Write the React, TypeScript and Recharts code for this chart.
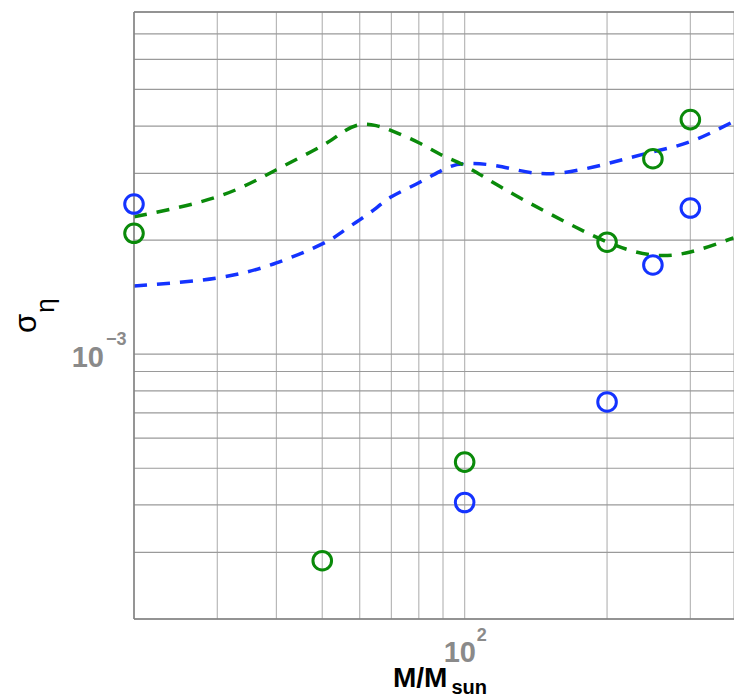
import { CartesianGrid, ComposedChart, Line, ReferenceLine, Scatter, XAxis, YAxis } from "recharts";

const BLUE = "#1433ff";
const GREEN = "#0a8a0a";
const BORDER = "#808080";
const TICK_GRAY = "#8a8a8a";
const FONT = "'Liberation Sans', Arial, Helvetica, sans-serif";

// M/Msun sample points of the two dashed curves
const curveMass = [20, 30, 40, 50, 55, 60, 65, 70, 80, 90, 100, 120, 150, 200, 250, 300, 370];
const greenCurveSigma = [
  2.304e-3, 2.602e-3, 3.067e-3, 3.551e-3, 3.843e-3, 4.035e-3, 4.011e-3, 3.89e-3, 3.615e-3, 3.341e-3, 3.144e-3,
  2.749e-3, 2.361e-3, 1.978e-3, 1.827e-3, 1.861e-3, 2.027e-3,
];
const blueCurveSigma = [
  1.513e-3, 1.589e-3, 1.741e-3, 1.954e-3, 2.1e-3, 2.262e-3, 2.43e-3, 2.602e-3, 2.835e-3, 3.067e-3, 3.182e-3,
  3.124e-3, 2.994e-3, 3.182e-3, 3.422e-3, 3.638e-3, 4.11e-3,
];

// circle markers
const blueMarkerMass = [20, 100, 200, 250, 300];
const blueMarkerSigma = [2.49e-3, 0.406e-3, 0.748e-3, 1.72e-3, 2.43e-3];
const greenMarkerMass = [20, 50, 100, 200, 250, 300];
const greenMarkerSigma = [2.085e-3, 0.285e-3, 0.519e-3, 1.975e-3, 3.28e-3, 4.16e-3];

const xTicks = [20, 30, 40, 50, 60, 70, 80, 90, 100, 200, 300];
const yTicks = [
  0.0002, 0.0003, 0.0004, 0.0005, 0.0006, 0.0007, 0.0008, 0.0009, 0.001, 0.002, 0.003, 0.004, 0.005, 0.006, 0.007,
  0.008,
];

const zip = (xs: number[], ys: number[]) => xs.map((x, i) => ({ x, y: ys[i] }));

const greenCurve = zip(curveMass, greenCurveSigma);
const blueCurve = zip(curveMass, blueCurveSigma);
const blueMarkers = zip(blueMarkerMass, blueMarkerSigma);
const greenMarkers = zip(greenMarkerMass, greenMarkerSigma);

const ring = (color: string) => (props: any) =>
  <circle cx={props.cx} cy={props.cy} r={9.3} fill="none" stroke={color} strokeWidth={3} />;

function XTick(props: any) {
  const { x, payload } = props;
  if (payload.value !== 100) return <g />;
  return (
    <g fontFamily={FONT} fontWeight="bold" fill={TICK_GRAY}>
      <text x={x - 21} y={662} fontSize={29}>10</text>
      <text x={x + 12} y={641} fontSize={18}>2</text>
    </g>
  );
}

function YTick(props: any) {
  const { y, payload } = props;
  if (Math.abs(payload.value - 0.001) > 1e-9) return <g />;
  return (
    <g fontFamily={FONT} fontWeight="bold" fill={TICK_GRAY}>
      <text x={104} y={y + 13} fontSize={29} textAnchor="end">10</text>
      <text x={106} y={y - 9} fontSize={18}>−3</text>
    </g>
  );
}

function YTitle() {
  return (
    <text transform="translate(36,333) rotate(-90)" fontFamily={FONT} fontSize={31} fill="#000">
      σ
      <tspan dx={1} dy={18} fontSize={26}>η</tspan>
    </text>
  );
}

function XTitle() {
  return (
    <text x={393} y={687} fontFamily={FONT} fontSize={28} fontWeight="bold" fill="#000">
      M/M
      <tspan dx={4} dy={7} fontSize={20}>sun</tspan>
    </text>
  );
}

export default function App() {
  return (
    <div style={{ position: "absolute", left: 0, top: 0, background: "#fff" }}>
      <ComposedChart width={734} height={699} margin={{ top: 12, right: 0, bottom: 0, left: 0 }}>
        <CartesianGrid horizontal={false} stroke="#b8b8b8" strokeWidth={1.2} />
        <CartesianGrid vertical={false} stroke="#9a9a9a" strokeWidth={1.2} />
        <XAxis
          dataKey="x"
          type="number"
          scale="log"
          domain={[20, 371]}
          ticks={xTicks}
          interval={0}
          height={80}
          tickLine={false}
          axisLine={{ stroke: BORDER, strokeWidth: 1.5 }}
          tick={<XTick />}
          label={<XTitle />}
        />
        <YAxis
          dataKey="y"
          type="number"
          scale="log"
          domain={[0.0002, 0.008]}
          ticks={yTicks}
          interval={0}
          width={134}
          tickLine={false}
          axisLine={{ stroke: BORDER, strokeWidth: 1.5 }}
          tick={<YTick />}
          label={<YTitle />}
        />
        <ReferenceLine y={0.008} stroke={BORDER} strokeWidth={1.5} />
        <Line
          data={blueCurve}
          dataKey="y"
          type="natural"
          stroke={BLUE}
          strokeWidth={3.5}
          strokeDasharray="13 10"
          dot={false}
          activeDot={false}
          isAnimationActive={false}
        />
        <Line
          data={greenCurve}
          dataKey="y"
          type="natural"
          stroke={GREEN}
          strokeWidth={3.5}
          strokeDasharray="13 10"
          dot={false}
          activeDot={false}
          isAnimationActive={false}
        />
        <Scatter data={blueMarkers} dataKey="y" shape={ring(BLUE)} isAnimationActive={false} />
        <Scatter data={greenMarkers} dataKey="y" shape={ring(GREEN)} isAnimationActive={false} />
      </ComposedChart>
    </div>
  );
}
